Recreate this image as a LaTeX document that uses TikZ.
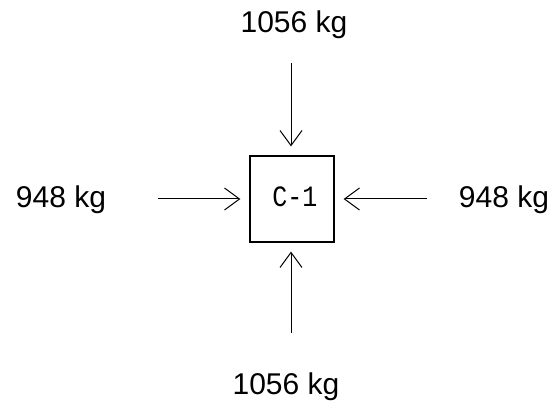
\documentclass[tikz,border=0pt]{standalone}
\usepackage{fontspec}
\setmainfont{Liberation Sans}
\newfontfamily\monofnt{Liberation Mono}
\usetikzlibrary{arrows.meta}
\begin{document}
\begin{tikzpicture}[x=1pt,y=-1pt,
  lbl/.style={font=\fontsize{30}{34}\selectfont, inner sep=0pt, anchor=base},
  flow/.style={line width=1pt, -{Straight Barb[length=15pt,width=22pt,line width=1pt]}, shorten >=9pt},
  unit/.style={draw, line width=1.3pt, minimum width=84pt, minimum height=86pt, inner sep=0pt,
    font=\monofnt\fontsize{25}{28}\selectfont}]
\useasboundingbox (0,0) rectangle (552,403);
\node[unit] (c1) at (292,199) {};
\node[inner sep=0pt, font=\monofnt\fontsize{25}{28}\selectfont] (c1text) at (295,197) {\scalebox{1}[1.18]{C-1}};
\node[lbl] (top) at (294,33) {1056 kg};
\node[lbl] (bot) at (286,395) {1056 kg};
\node[lbl] (left) at (61,208) {948 kg};
\node[lbl] (right) at (504,208) {948 kg};
\coordinate (ts) at (291,63);
\coordinate (bs) at (291,333);
\coordinate (ls) at (158,199);
\coordinate (rs) at (427,199);
\draw[flow] (ts) -- (ts |- c1.north);
\draw[flow] (bs) -- (bs |- c1.south);
\draw[flow] (ls) -- (ls -| c1.west);
\draw[flow] (rs) -- (rs -| c1.east);
\end{tikzpicture}
\end{document}
